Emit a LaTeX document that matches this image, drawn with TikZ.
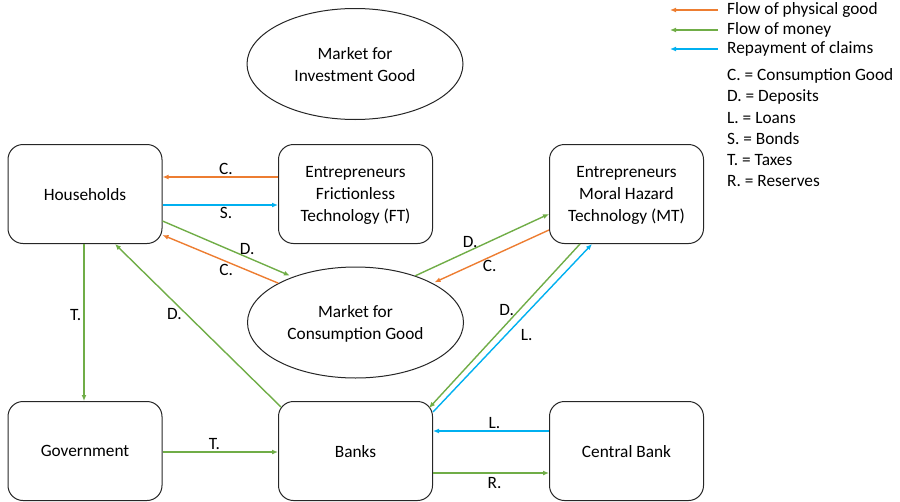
\documentclass[tikz,border=0pt]{standalone}
\usepackage{fontspec}
\setmainfont{Carlito}
\usetikzlibrary{arrows.meta,shapes.geometric}
\definecolor{goodorange}{HTML}{ED7D31}
\definecolor{moneygreen}{HTML}{70AD47}
\definecolor{claimblue}{HTML}{00B0F0}

\begin{document}
\begin{tikzpicture}[x=1pt,y=-1pt,
    font=\fontsize{17.3}{22}\selectfont,
    agent/.style={draw=black!85, line width=1pt, rounded corners=15pt,
      minimum width=154pt, minimum height=99pt, align=center, inner sep=0pt,
      text depth=0pt},
    market/.style={draw=black!85, line width=1pt, ellipse,
      minimum width=216pt, minimum height=111pt, align=center, inner sep=0pt,
      text depth=0pt},
    flow/.style={line width=1.4pt, -{Latex[length=6pt,width=5pt]}},
    good/.style={flow, goodorange},
    money/.style={flow, moneygreen},
    claim/.style={flow, claimblue},
    lbl/.style={text=black, inner sep=2pt},
    key/.style={anchor=west, inner sep=0pt}]
  \useasboundingbox (0,0) rectangle (900,501);

  % Sectors
  \node[agent] (hh) at (85,194) {Households};
  \node[agent] (ft) at (355.5,194) {Entrepreneurs\\Frictionless\\Technology (FT)};
  \node[agent] (mt) at (626.5,194) {Entrepreneurs\\Moral Hazard\\Technology (MT)};
  \node[agent] (gov) at (85,451) {Government};
  \node[agent] (bk) at (355.5,451) {Banks};
  \node[agent] (cb) at (626.5,451) {Central Bank};

  % Markets
  \node[market] (mi) at (355,64) {Market for\\Investment Good};
  \node[market] (mc) at (355.5,322.5) {Market for\\Consumption Good};

  % Households <-> firms and goods market
  \draw[good] ([yshift=17pt]ft.west) -- node[lbl,above,pos=.45]{C.} ([yshift=17pt]hh.east);
  \draw[claim] ([yshift=-11pt]hh.east) -- node[lbl,below,pos=.55]{S.} ([yshift=-11pt]ft.west);
  \draw[money, shorten >=3pt] ([yshift=-27pt]hh.east) -- node[lbl,above,pos=.65]{D.} (mc.144);
  \draw[good] (mc.153) -- node[lbl,below,pos=.45]{C.} ([yshift=-41pt]hh.east);

  % MT firms <-> goods market
  \draw[money] (mc.38) -- node[lbl,above,pos=.41]{D.} ([yshift=-20pt]mt.west);
  \draw[good, shorten >=2pt] ([yshift=-36pt]mt.west) -- node[lbl,below,pos=.51]{C.} (mc.27);

  % Taxes and deposits
  \draw[money] ([xshift=-1pt]hh.south) -- node[lbl,left,pos=.45]{T.} ([xshift=-1pt]gov.north);
  \draw[money] ([xshift=3pt,yshift=-6pt]bk.north west) -- node[lbl,left,pos=.57,xshift=-2pt]{D.} ([xshift=30pt]hh.south);
  \draw[money] ([xshift=-46.5pt]mt.south) -- node[lbl,left,pos=.4,xshift=-3pt]{D.} ([xshift=-4pt,yshift=-7pt]bk.north east);
  \draw[claim] ([yshift=-11pt]bk.north east) -- node[lbl,right,pos=.46,xshift=12pt]{L.} ([xshift=-34.5pt]mt.south);

  % Bottom row
  \draw[money] ([yshift=-1pt]gov.east) -- node[lbl,above,pos=.45]{T.} ([yshift=-1pt]bk.west);
  \draw[claim] ([yshift=20pt]cb.west) -- node[lbl,above,pos=.47]{L.} ([yshift=20pt]bk.east);
  \draw[money] ([yshift=-22pt]bk.east) -- node[lbl,below,pos=.53,yshift=-2pt]{R.} ([yshift=-22pt]cb.west);

  % Legend
  \node[key] (kgood) at (727,10) {Flow of physical good};
  \node[key] (kmoney) at (727,30) {Flow of money};
  \node[key] (kclaim) at (727,49) {Repayment of claims};
  \coordinate (kgoodtip) at (670,10);
  \coordinate (kmoneytip) at (670,30);
  \coordinate (kclaimtip) at (670,49);
  \draw[good] ([xshift=-9pt]kgood.west) -- (kgoodtip);
  \draw[money] ([xshift=-9pt]kmoney.west) -- (kmoneytip);
  \draw[claim] ([xshift=-9pt]kclaim.west) -- (kclaimtip);

  \node[key] (kc) at (727,76) {C. = Consumption Good};
  \node[key] (kd) at (727,97) {D. = Deposits};
  \node[key] (kl) at (727,118) {L. = Loans};
  \node[key] (ks) at (727,139) {S. = Bonds};
  \node[key] (kt) at (727,160) {T. = Taxes};
  \node[key] (kr) at (727,181) {R. = Reserves};
\end{tikzpicture}
\end{document}
